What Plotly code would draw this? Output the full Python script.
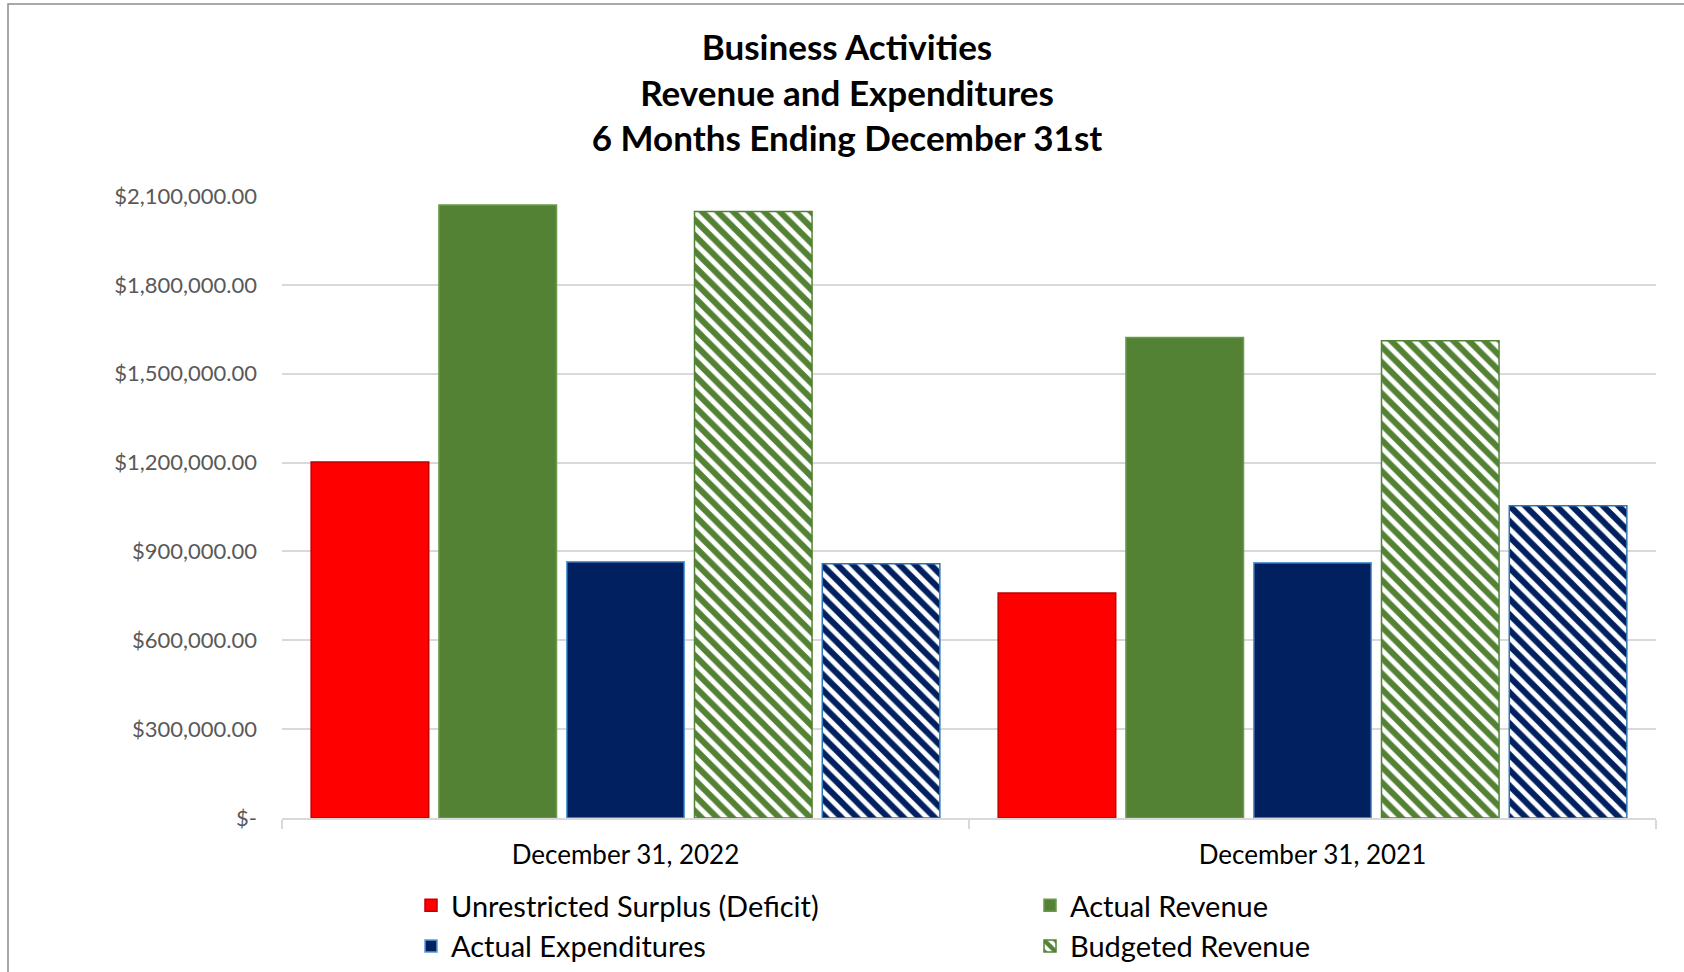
import plotly.graph_objects as go

categories = ["December 31, 2022", "December 31, 2021"]
surplus = [1202000, 760000]
actual_revenue = [2070000, 1622000]
actual_expenditures = [865000, 862000]
budgeted_revenue = [2048000, 1611000]
budgeted_expenditures = [858000, 1054000]

tick_vals = [0, 300000, 600000, 900000, 1200000, 1500000, 1800000, 2100000]
tick_text = ["$-", "$300,000.00", "$600,000.00", "$900,000.00", "$1,200,000.00",
             "$1,500,000.00", "$1,800,000.00", "$2,100,000.00"]

FONT = "Lato"
W, H = 1684, 972
L, R, T, B = 282, 28, 196, 154

fig = go.Figure()
fig.add_trace(go.Bar(name="Unrestricted Surplus (Deficit)", x=categories, y=surplus,
                     marker=dict(color="#ff0000", line=dict(color="#c00000", width=1.5))))
fig.add_trace(go.Bar(name="Actual Revenue", x=categories, y=actual_revenue,
                     marker=dict(color="#548235", line=dict(color="#6a9a4a", width=1.5))))
fig.add_trace(go.Bar(name="Actual Expenditures", x=categories, y=actual_expenditures,
                     marker=dict(color="#002060", line=dict(color="#5b9bd5", width=1.5))))
fig.add_trace(go.Bar(name="Budgeted Revenue", x=categories, y=budgeted_revenue,
                     marker=dict(color="white", line=dict(color="#548235", width=1.5),
                                 pattern=dict(shape="\\", fgcolor="#548235", bgcolor="white",
                                              fgopacity=1, size=11, solidity=0.55))))
fig.add_trace(go.Bar(name="Budgeted Expenditures", x=categories, y=budgeted_expenditures,
                     showlegend=False,
                     marker=dict(color="white", line=dict(color="#2e75b6", width=1.5),
                                 pattern=dict(shape="\\", fgcolor="#002060", bgcolor="white",
                                              fgopacity=1, size=11, solidity=0.55))))

pw = W - L - R
ph = H - T - B

def px_x(p):
    return (p - L) / pw

def px_y(p):
    return (H - B - p) / ph

fig.add_shape(type="rect", xref="paper", yref="paper",
              x0=px_x(8), x1=px_x(1700), y0=px_y(990), y1=px_y(4),
              line=dict(color="#8c8c8c", width=1.5), fillcolor="rgba(0,0,0,0)", layer="below")

fig.update_layout(
    width=W, height=H,
    margin=dict(l=L, r=R, t=T, b=B, autoexpand=False),
    paper_bgcolor="white", plot_bgcolor="white",
    barmode="group", bargap=0.07, bargroupgap=0.08,
    title=dict(text="Business Activities<br>Revenue and Expenditures<br>6 Months Ending December 31st",
               x=847 / W, xanchor="center", y=1 - 60 / H, yanchor="top",
               font=dict(family=FONT, size=35, color="#000000", weight="bold")),
    font=dict(family=FONT),
    showlegend=True,
    legend=dict(orientation="h", x=px_x(411), xanchor="left", y=px_y(880), yanchor="top",
                entrywidth=574, entrywidthmode="pixels", traceorder="normal",
                font=dict(family=FONT, size=29, color="#000000"),
                itemwidth=30, bgcolor="rgba(0,0,0,0)"),
    xaxis=dict(showgrid=False, showline=True, linecolor="#d9d9d9", linewidth=1.5,
               ticks="outside", tickson="boundaries", ticklen=9, tickcolor="#d9d9d9",
               tickwidth=1.5, ticklabelstandoff=13,
               tickfont=dict(family=FONT, size=26, color="#000000")),
    yaxis=dict(range=[0, 2100000], tickvals=tick_vals, ticktext=tick_text,
               showgrid=True, gridcolor="#d9d9d9", gridwidth=1.5, zeroline=False,
               showline=False, ticks="", ticklabelstandoff=24,
               tickfont=dict(family=FONT, size=22, color="#595959")),
)

fig.write_html("out.html")
